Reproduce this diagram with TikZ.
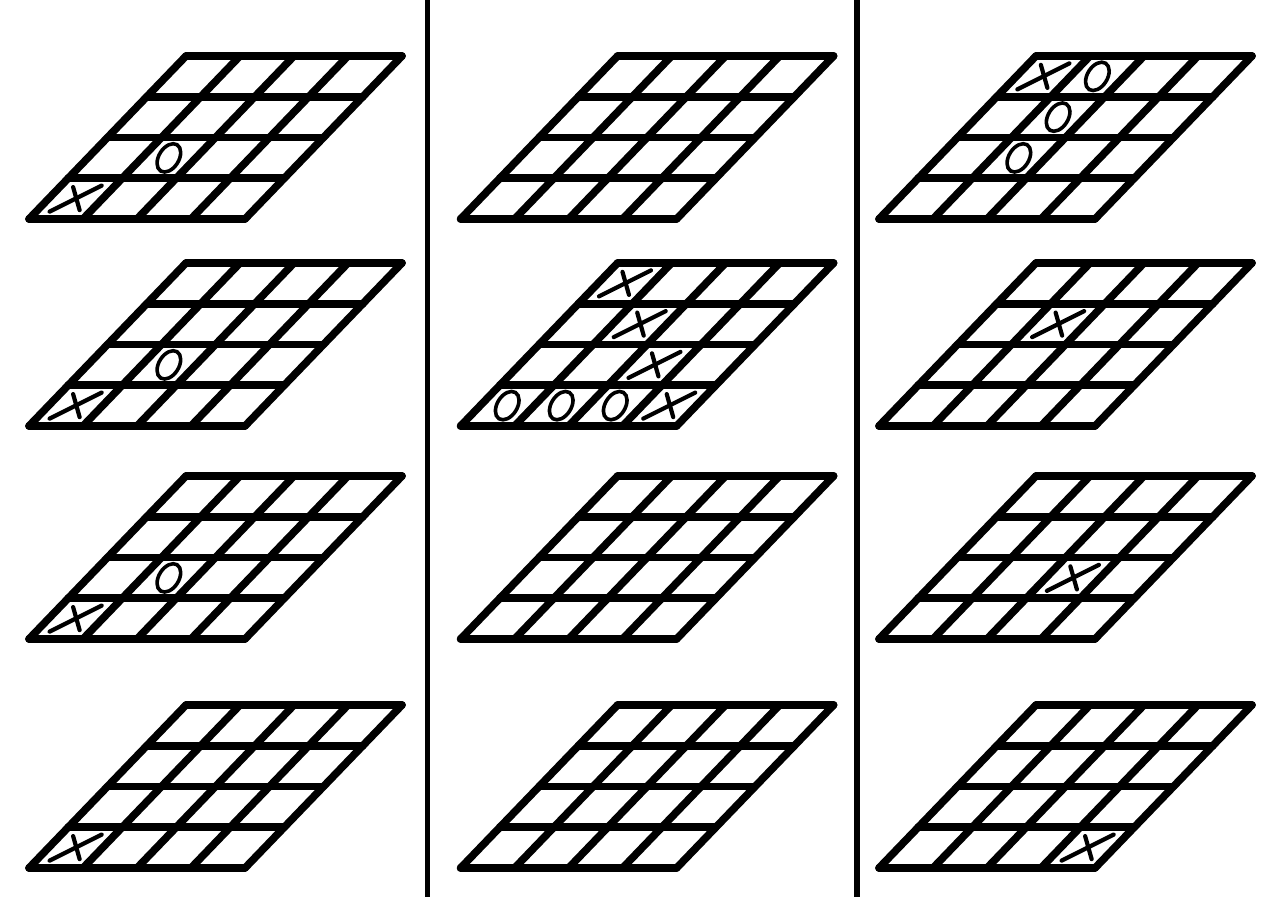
\documentclass[tikz,border=0pt]{standalone}
\usetikzlibrary{shapes.geometric}
\tikzset{
  gridline/.style={line width=3.8pt, line cap=round, line join=round},
  sepline/.style={line width=2.6pt},
  xline/.style={line width=2.1pt, line cap=round},
  omark/.style={draw, ellipse, line width=1.8pt, minimum width=10pt, minimum height=15.5pt, inner sep=0pt, rotate=-32},
  xmark/.pic={
    \draw[xline] (-13pt,-6.5pt) -- (13pt,6.5pt);
    \draw[xline] (-1.25pt,5.75pt) -- (2pt,-5.75pt);
  }
}
\newcommand\putX[2]{\pic at ({#1+0.5},{#2+0.5}) {xmark};}
\newcommand\putO[2]{\node[omark] at ({#1+0.5},{#2+0.5}) {};}
\newcommand\tttboard[3]{%
  \begin{scope}[shift={(#1,#2)}, x={(27pt,0pt)}, y={(19.625pt,20.375pt)}]
    \foreach \k in {0,...,4} {
      \draw[gridline] (0,\k) -- (4,\k);
      \draw[gridline] (\k,0) -- (\k,4);
    }
    #3
  \end{scope}}
\begin{document}
\begin{tikzpicture}[x=0.5pt, y=-0.5pt]
  \fill[white] (0,0) rectangle (1280,897);
  \useasboundingbox (0,0) rectangle (1280,897);
  % separators
  \coordinate (s1t) at (427.5,0);
  \coordinate (s1b) at (427.5,897);
  \coordinate (s2t) at (857,0);
  \coordinate (s2b) at (857,897);
  \draw[sepline] (s1t) -- (s1b);
  \draw[sepline] (s2t) -- (s2b);
  % column 1
  \tttboard{29}{219}{\putX{0}{0}\putO{1}{1}}
  \tttboard{29}{426}{\putX{0}{0}\putO{1}{1}}
  \tttboard{29}{639}{\putX{0}{0}\putO{1}{1}}
  \tttboard{29}{868}{\putX{0}{0}}
  % column 2
  \tttboard{460.6}{219}{}
  \tttboard{460.6}{426}{\putX{0}{3}\putX{1}{2}\putX{2}{1}\putX{3}{0}\putO{0}{0}\putO{1}{0}\putO{2}{0}}
  \tttboard{460.6}{639}{}
  \tttboard{460.6}{868}{}
  % column 3
  \tttboard{879}{219}{\putX{0}{3}\putO{1}{3}\putO{1}{2}\putO{1}{1}}
  \tttboard{879}{426}{\putX{1}{2}}
  \tttboard{879}{639}{\putX{2}{1}}
  \tttboard{879}{868}{\putX{3}{0}}
\end{tikzpicture}
\end{document}
